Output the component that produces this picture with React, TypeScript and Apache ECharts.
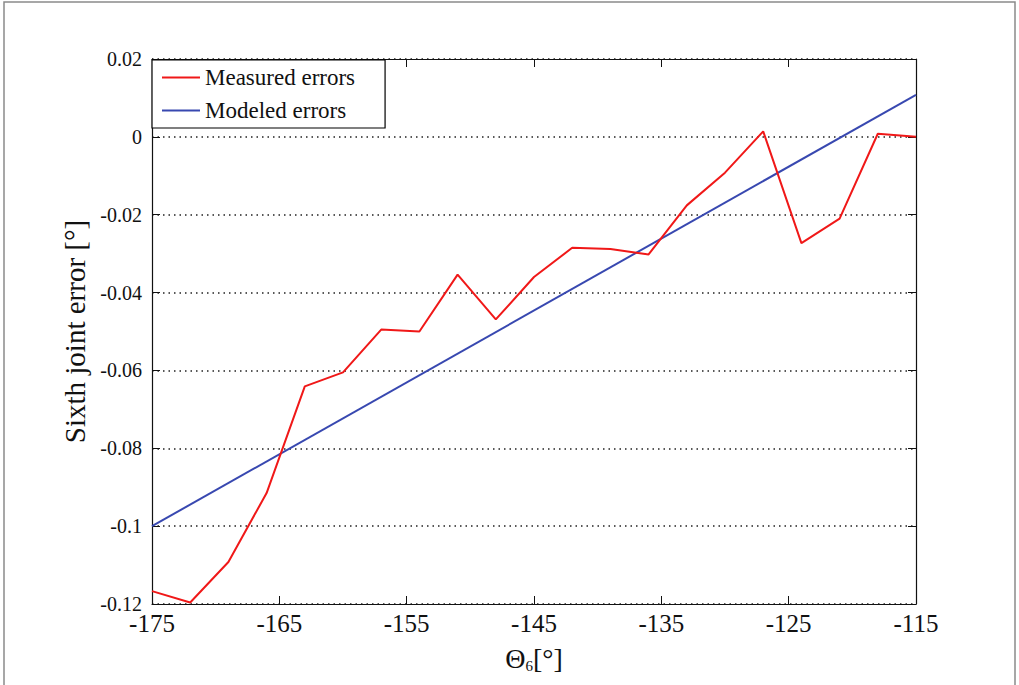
import React, { useEffect, useRef } from "react";
import * as echarts from "echarts";

const thetaMeasured = [-175, -172, -169, -166, -163, -160, -157, -154, -151, -148, -145, -142, -139, -136, -133, -130, -127, -124, -121, -118, -115];
const measuredErrors = [-0.1167, -0.1196, -0.1092, -0.0915, -0.0641, -0.0605, -0.0495, -0.05, -0.0354, -0.0469, -0.036, -0.0285, -0.0288, -0.0302, -0.0176, -0.0092, 0.0014, -0.0273, -0.021, 0.0008, 0.0];
const thetaModeled = [-175, -115];
const modeledErrors = [-0.1, 0.0108];
const xTicks = [-175, -165, -155, -145, -135, -125, -115];
const seriesNames = ["Measured errors", "Modeled errors"];

const FONT = "'Liberation Serif', 'Times New Roman', serif";

export default function App() {
  const ref = useRef<HTMLDivElement>(null);
  useEffect(() => {
    const chart = echarts.init(ref.current!, null, { renderer: "svg" });
    const measured = thetaMeasured.map((t, i) => [t, measuredErrors[i]]);
    const modeled = thetaModeled.map((t, i) => [t, modeledErrors[i]]);
    chart.setOption({
      animation: false,
      backgroundColor: "#fff",
      graphic: [
        {
          type: "rect",
          shape: { x: 4, y: 2, width: 1011, height: 720 },
          style: { fill: "none", stroke: "#8a8a8a", lineWidth: 1.5 },
          silent: true,
        },
      ],
      grid: { left: 152, top: 59, right: 103, bottom: 81, show: false },
      legend: {
        left: 152,
        top: 60,
        orient: "vertical",
        backgroundColor: "#fff",
        borderColor: "#000",
        borderWidth: 1.2,
        padding: [6, 30, 6, 10],
        itemGap: 10,
        itemWidth: 38,
        itemHeight: 2,
        icon: "rect",
        textStyle: { fontFamily: FONT, fontSize: 23, color: "#111", lineHeight: 22 },
        data: seriesNames,
      },
      xAxis: [
        {
          type: "value",
          min: -175,
          max: -115,
          name: "Θ{sub|6}[°]",
          nameLocation: "middle",
          nameGap: 40,
          nameTextStyle: {
            fontFamily: FONT,
            fontSize: 28,
            color: "#111",
            rich: { sub: { fontFamily: FONT, fontSize: 15, verticalAlign: "bottom", padding: [14, 0, 0, 0], color: "#111" } },
          },
          axisLine: { show: true, onZero: false, lineStyle: { color: "#111", width: 1.2 } },
          axisTick: { show: true, inside: true, length: 8, customValues: xTicks, lineStyle: { color: "#111" } },
          axisLabel: { customValues: xTicks, fontFamily: FONT, fontSize: 25, color: "#111", margin: 7 },
          splitLine: { show: false },
        },
        {
          type: "value",
          position: "top",
          min: -175,
          max: -115,
          axisLine: { show: true, onZero: false, lineStyle: { color: "#111", width: 1.2 } },
          axisTick: { show: true, inside: true, length: 8, customValues: xTicks, lineStyle: { color: "#111" } },
          axisLabel: { show: false },
          splitLine: { show: false },
        },
      ],
      yAxis: [
        {
          type: "value",
          min: -0.12,
          max: 0.02,
          interval: 0.02,
          name: "Sixth joint error [°]",
          nameLocation: "middle",
          nameGap: 58,
          nameTextStyle: { fontFamily: FONT, fontSize: 29, color: "#111" },
          axisLine: { show: true, onZero: false, lineStyle: { color: "#111", width: 1.2 } },
          axisTick: { show: true, inside: true, length: 8, lineStyle: { color: "#111" } },
          axisLabel: { fontFamily: FONT, fontSize: 20, color: "#111", margin: 10 },
          splitLine: { show: true, lineStyle: { color: "#222", type: [1.5, 4], width: 1.5 } },
        },
        {
          type: "value",
          position: "right",
          min: -0.12,
          max: 0.02,
          interval: 0.02,
          axisLine: { show: true, onZero: false, lineStyle: { color: "#111", width: 1.2 } },
          axisTick: { show: true, inside: true, length: 8, lineStyle: { color: "#111" } },
          axisLabel: { show: false },
          splitLine: { show: false },
        },
      ],
      series: [
        {
          name: seriesNames[0],
          type: "line",
          data: measured,
          symbol: "none",
          lineStyle: { color: "#f01818", width: 2 },
          itemStyle: { color: "#f01818" },
          z: 3,
        },
        {
          name: seriesNames[1],
          type: "line",
          data: modeled,
          symbol: "none",
          lineStyle: { color: "#3848b0", width: 2 },
          itemStyle: { color: "#3848b0" },
          z: 2,
        },
      ],
    });
    return () => chart.dispose();
  }, []);
  return <div ref={ref} style={{ position: "absolute", left: 0, top: 0, width: 1019, height: 685 }} />;
}
